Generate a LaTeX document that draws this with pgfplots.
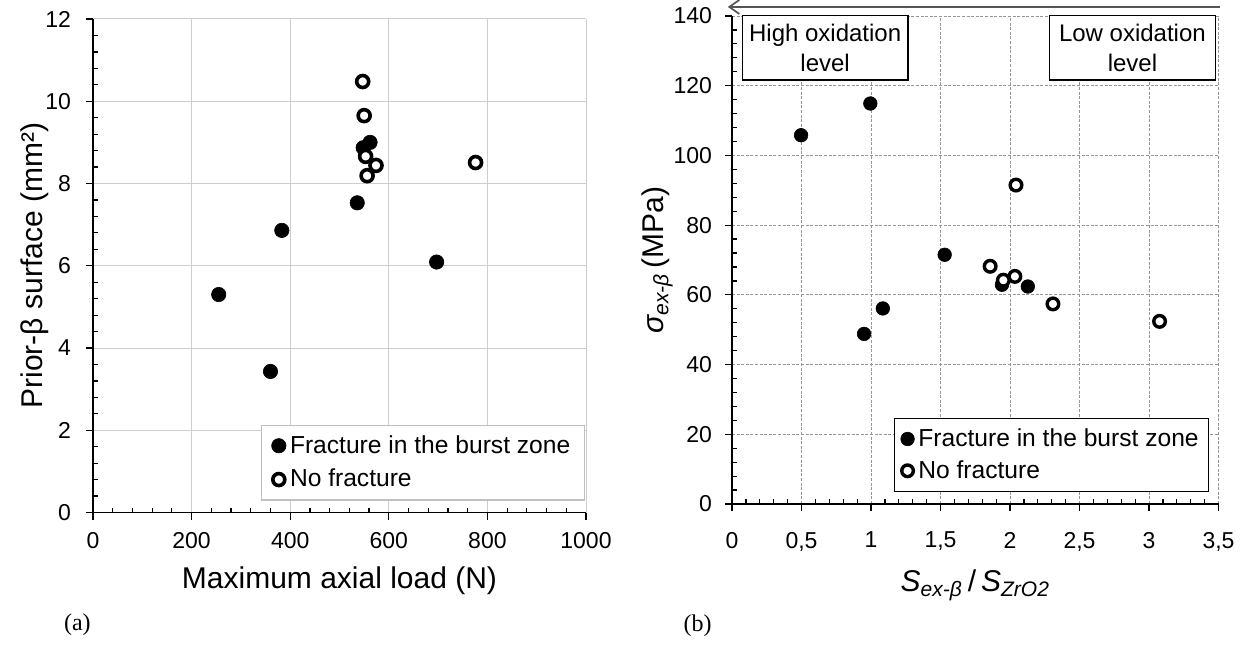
\documentclass[border=0pt]{standalone}
\usepackage{fontspec}
\setmainfont{Liberation Sans}
\newfontfamily\seriffont{Liberation Serif}
\usepackage{pgfplots}
\pgfplotsset{compat=1.18}
\usetikzlibrary{arrows.meta}

\definecolor{gridA}{RGB}{205,205,205}
\definecolor{gridB}{RGB}{150,150,150}
\definecolor{arrowgray}{RGB}{85,85,85}
\definecolor{legA}{RGB}{192,192,192}

\pgfplotsset{
  common/.style={
    scale only axis,
    clip=false,
    axis lines*=left,
    tick align=outside,
    major tick length=3.5pt,
    minor tick length=2.5pt,
    minor tick num=4,
    minor x tick style={yshift=2.5pt},
    minor y tick style={xshift=2.5pt},
    tick style={black, line width=0.6pt},
    grid=major,
    /pgf/number format/assume math mode=true,
    ticklabel style={font=\fontsize{11.5}{12}\selectfont},
    label style={font=\fontsize{15}{17}\selectfont},
    legend cell align=left,
    legend image code/.code={\draw[#1] plot coordinates {(0cm,0cm)};},
  },
  filledmk/.style={only marks, mark=*, mark size=#1, mark options={draw=black, fill=black, line width=0.3pt}},
  openmk/.style 2 args={only marks, mark=*, mark size=#1, mark options={draw=black, fill=white, line width=#2}},
}

\begin{document}
\begin{tikzpicture}
\useasboundingbox (0,0) rectangle (623pt,322pt);

% ---------------- (a) ----------------
\begin{axis}[common,
  at={(46.5pt,65.75pt)}, anchor=south west,
  width=246.5pt, height=246.75pt,
  xmin=0, xmax=1000, ymin=0, ymax=12,
  xtick={0,200,...,1000}, ytick={0,2,...,12},
  /pgf/number format/1000 sep={},
  xticklabel style={yshift=-3pt},
  yticklabel style={xshift=-4pt},
  axis line style={line width=0.85pt, black},
  major grid style={gridA, line width=0.5pt},
  xlabel={Maximum axial load (N)},
  ylabel={Prior-β surface (mm²)},
  xlabel style={at={(axis description cs:0.5,-0.153)}, anchor=base},
  ylabel style={at={(axis description cs:-0.1034,0.5)}, anchor=base, rotate=0},
  legend style={at={(axis description cs:0.998,0.024)}, anchor=south east,
    draw=legA, line width=0.7pt, fill=white,
    font=\fontsize{12.3}{14.8}\selectfont, row sep=2.5pt,
    inner xsep=5pt, inner ysep=3pt,
    /tikz/every even column/.append style={column sep=4pt}},
]
\addplot[filledmk=3.6pt] coordinates {
  (255,5.30) (360,3.43) (383,6.86) (536,7.53) (548,8.87) (562,9.00) (697,6.09)
};
\addlegendentry{Fracture in the burst zone}
\addplot[openmk={3.0pt}{1.8pt}] coordinates {
  (547,10.48) (550,9.65) (553,8.66) (574,8.44) (556,8.19) (776,8.51)
};
\addlegendentry{No fracture}
\end{axis}

% ---------------- (b) ----------------
\begin{axis}[common,
  at={(366pt,70pt)}, anchor=south west,
  width=243.25pt, height=244pt,
  xmin=0, xmax=3.5, ymin=0, ymax=140,
  xtick={0,0.5,...,3.5}, ytick={0,20,...,140},
  /pgf/number format/use comma,
  xticklabel style={yshift=-7pt},
  yticklabel style={xshift=-3pt},
  x axis line style={line width=1.2pt, black},
  y axis line style={line width=0.6pt, black},
  major grid style={gridB, line width=0.5pt, dash pattern=on 1.5pt off 0.8pt},
  xlabel={{\itshape S\textsubscript{ex-β}}\,/\,{\itshape S\textsubscript{ZrO2}}},
  ylabel={{\itshape σ\textsubscript{ex-β}}\,(MPa)},
  xlabel style={at={(axis description cs:0.5,-0.1797)}, anchor=base},
  ylabel style={at={(axis description cs:-0.1418,0.5)}, anchor=base, rotate=0},
  legend style={at={(axis description cs:0.981,0.025)}, anchor=south east,
    draw=black, line width=0.6pt, fill=white,
    font=\fontsize{12.3}{14.8}\selectfont, row sep=1.5pt,
    inner xsep=3pt, inner ysep=3pt,
    /tikz/every even column/.append style={column sep=2pt}},
]
\addplot[filledmk=3.4pt] coordinates {
  (0.497,105.8) (0.995,114.9) (0.95,48.8) (1.085,56.1) (1.53,71.5) (1.942,62.9) (2.128,62.4)
};
\addlegendentry{Fracture in the burst zone}
\addplot[openmk={2.9pt}{1.7pt}] coordinates {
  (2.043,91.5) (1.857,68.2) (2.035,65.3) (1.952,64.2) (2.309,57.4) (3.076,52.4)
};
\addlegendentry{No fracture}

\node[draw=black, line width=0.6pt, fill=white, anchor=north west, align=center,
  minimum width=82.75pt, minimum height=32.2pt, inner sep=0pt,
  font=\fontsize{12}{15}\selectfont] at (axis cs:0.0705,140.3) {High oxidation\\level};
\node[draw=black, line width=0.6pt, fill=white, anchor=north west, align=center,
  minimum width=82.9pt, minimum height=32.2pt, inner sep=0pt,
  font=\fontsize{12}{15}\selectfont] at (axis cs:2.280,140.3) {Low oxidation\\level};
\draw[arrowgray, line width=0.85pt, {Straight Barb[length=5pt,width=7pt]}-]
  (axis cs:-0.03,142.6) -- (axis cs:3.513,142.6);
\end{axis}

\node[anchor=base west, font=\seriffont\fontsize{12}{14}\selectfont] at (28.5pt,7pt) {(a)};
\node[anchor=base west, font=\seriffont\fontsize{12}{14}\selectfont] at (338.3pt,6.15pt) {(b)};
\end{tikzpicture}
\end{document}
